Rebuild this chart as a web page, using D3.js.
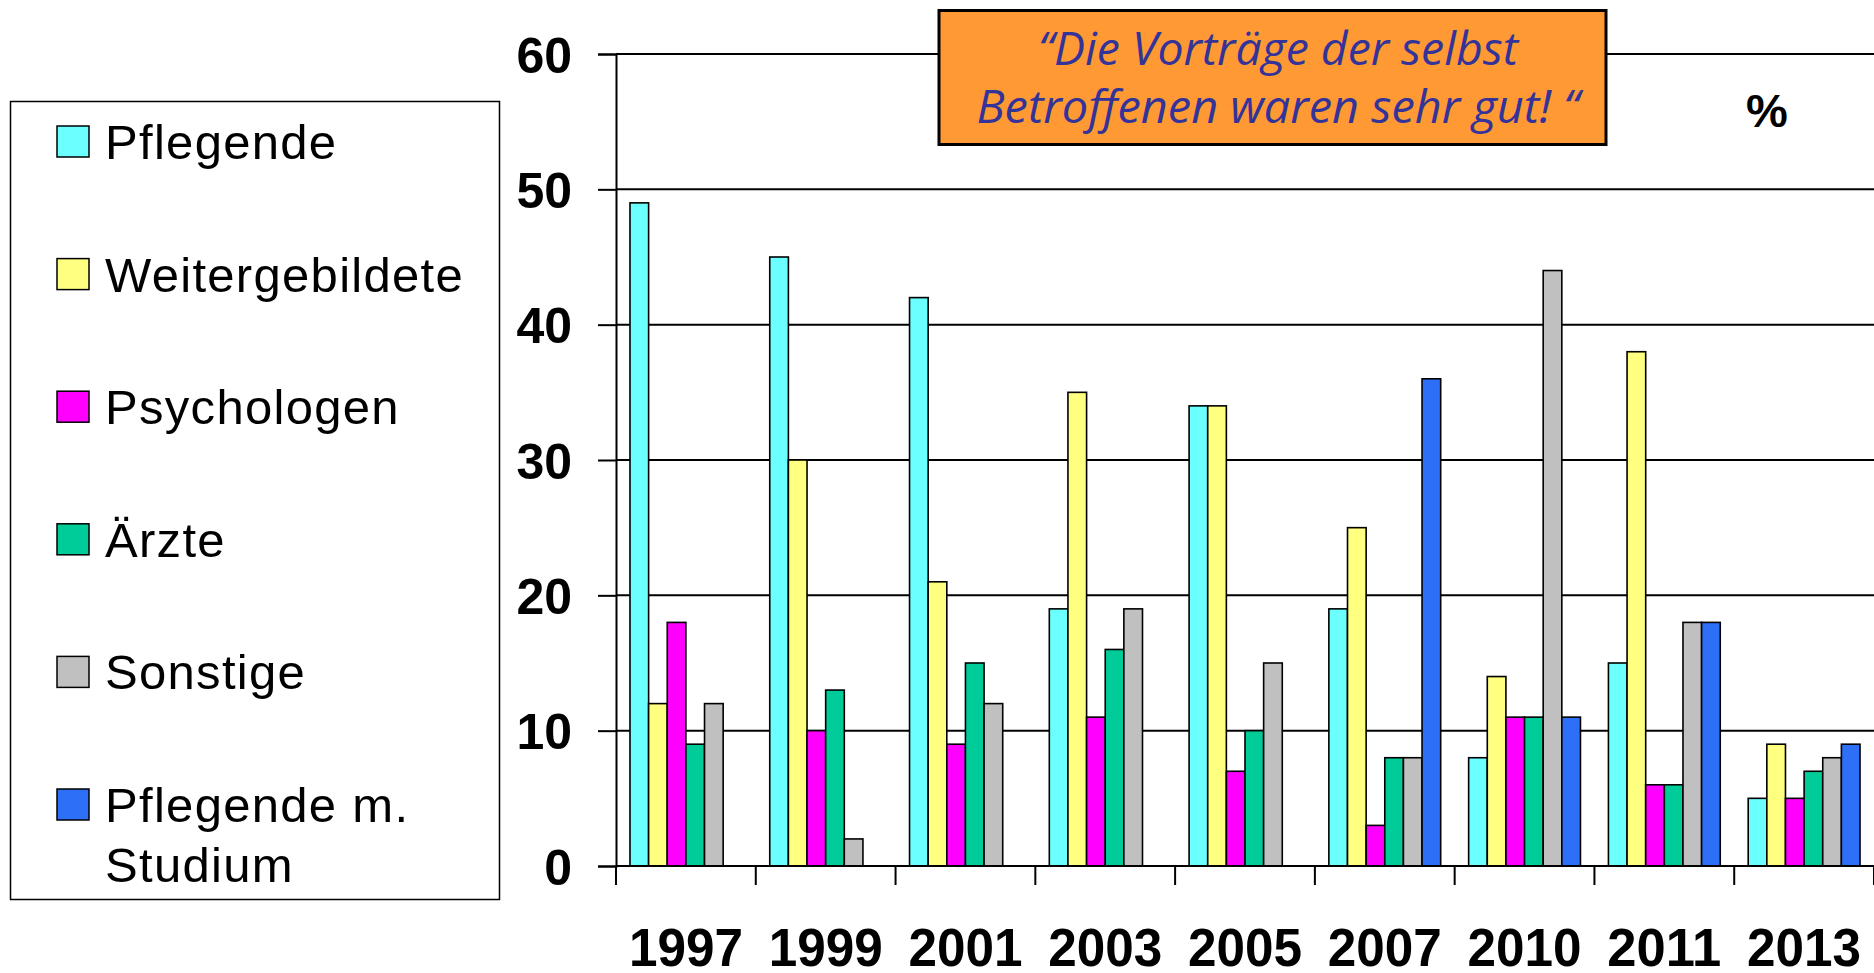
<!DOCTYPE html>
<html>
<head>
<meta charset="utf-8">
<script src="https://cdn.jsdelivr.net/npm/d3@7"></script>
<style>
  body { margin: 0; background: #fff; }
  svg { display: block; }
</style>
</head>
<body>
<svg></svg>
<script>
// data (percent)
let years = ['1997', '1999', '2001', '2003', '2005', '2007', '2010', '2011', '2013']
let seriesNames = ['Pflegende', 'Weitergebildete', 'Psychologen', 'Ärzte', 'Sonstige', 'Pflegende m. Studium']
let pflegende       = [49, 45, 42, 19, 34, 19, 8, 15, 5]
let weitergebildete = [12, 30, 21, 35, 34, 25, 14, 38, 9]
let psychologen     = [18, 10, 9, 11, 7, 3, 11, 6, 5]
let aerzte          = [9, 13, 15, 16, 10, 8, 11, 6, 7]
let sonstige        = [12, 2, 12, 19, 15, 8, 44, 18, 8]
let pflegendeStudium = [null, null, null, null, null, 36, 11, 18, 9]
let yTicks = [0, 10, 20, 30, 40, 50, 60]
let colors = ['#6bffff', '#ffff80', '#ff00ff', '#00cc99', '#c0c0c0', '#2d6ff7']

let seriesValues = [pflegende, weitergebildete, psychologen, aerzte, sonstige, pflegendeStudium]

let width = 1874
let height = 973
let plotLeft = 616
let plotRight = 1874
let plotTop = 54
let plotBottom = 866

let svg = d3.select('svg').attr('width', width).attr('height', height)

let x0 = d3.scaleBand().domain(years).range([plotLeft, plotRight]).paddingInner(0.2).paddingOuter(0.1)
let x1 = d3.scaleBand().domain(d3.range(seriesNames.length)).range([0, x0.bandwidth()])
let y = d3.scaleLinear().domain([0, 60]).range([plotBottom, plotTop])

// gridlines
svg.append('g')
   .selectAll('line')
   .data(yTicks.filter(d => d > 0))
   .enter()
   .append('line')
   .attr('x1', plotLeft).attr('x2', plotRight)
   .attr('y1', d => y(d)).attr('y2', d => y(d))
   .attr('stroke', '#000').attr('stroke-width', 2)

// bars
let rows = []
years.forEach((yr, i) => {
  seriesValues.forEach((vals, s) => {
    if (vals[i] != null) rows.push({ year: yr, s: s, v: vals[i] })
  })
})

svg.append('g')
   .selectAll('rect')
   .data(rows)
   .enter()
   .append('rect')
   .attr('x', d => x0(d.year) + x1(d.s))
   .attr('y', d => y(d.v))
   .attr('width', x1.bandwidth())
   .attr('height', d => y(0) - y(d.v))
   .attr('fill', d => colors[d.s])
   .attr('stroke', '#000')
   .attr('stroke-width', 1.6)

// y axis
let yAxis = d3.axisLeft(y).tickValues(yTicks).tickSize(18).tickPadding(26)
let yg = svg.append('g').attr('transform', 'translate(' + plotLeft + ',0)').call(yAxis)
yg.select('.domain').attr('stroke', '#000').attr('stroke-width', 2)
yg.selectAll('.tick line').attr('stroke', '#000').attr('stroke-width', 2)
yg.selectAll('text')
  .attr('fill', '#000')
  .style('font-family', '"Liberation Sans", Arial, sans-serif')
  .style('font-weight', 'bold')
  .style('font-size', '50px')
  .attr('dy', '0.36em')

// x axis line + boundary ticks
svg.append('line')
   .attr('x1', plotLeft).attr('x2', plotRight)
   .attr('y1', plotBottom).attr('y2', plotBottom)
   .attr('stroke', '#000').attr('stroke-width', 2)

let boundaries = d3.range(years.length + 1).map(i => plotLeft + i * x0.step())
svg.append('g')
   .selectAll('line')
   .data(boundaries)
   .enter()
   .append('line')
   .attr('x1', d => d).attr('x2', d => d)
   .attr('y1', plotBottom).attr('y2', plotBottom + 19)
   .attr('stroke', '#000').attr('stroke-width', 2)

let xAxis = d3.axisBottom(x0).tickSize(0).tickPadding(62)
let xg = svg.append('g').attr('transform', 'translate(0,' + plotBottom + ')').call(xAxis)
xg.select('.domain').remove()
xg.selectAll('text')
  .attr('fill', '#000')
  .style('font-family', '"Liberation Sans", Arial, sans-serif')
  .style('font-weight', 'bold')
  .style('font-size', '54px')
  .attr('textLength', 114)
  .attr('lengthAdjust', 'spacingAndGlyphs')

// legend
let legend = svg.append('g')
legend.append('rect')
      .attr('x', 10.5).attr('y', 101.5)
      .attr('width', 489).attr('height', 798)
      .attr('fill', '#fff').attr('stroke', '#000').attr('stroke-width', 1.5)

let rowY = d3.scaleLinear().domain([0, 5]).range([142, 805])
let items = legend.selectAll('.item')
                  .data(seriesNames)
                  .enter()
                  .append('g')
                  .attr('class', 'item')
                  .attr('transform', (d, i) => 'translate(0,' + rowY(i) + ')')

items.append('rect')
     .attr('x', 57).attr('y', -16)
     .attr('width', 32).attr('height', 31)
     .attr('fill', (d, i) => colors[i])
     .attr('stroke', '#000').attr('stroke-width', 1.5)

items.append('text')
     .attr('x', 105).attr('y', 17)
     .style('font-family', '"Liberation Sans", Arial, sans-serif')
     .style('font-size', '49px')
     .style('letter-spacing', '1.3px')
     .attr('fill', '#000')
     .each(function (d) {
       let t = d3.select(this)
       if (d === 'Pflegende m. Studium') {
         t.append('tspan').attr('x', 105).text('Pflegende m.')
         t.append('tspan').attr('x', 105).attr('dy', 60).text('Studium')
       } else {
         t.text(d)
       }
     })

// quote box
svg.append('rect')
   .attr('x', 939).attr('y', 10.5)
   .attr('width', 667).attr('height', 134)
   .attr('fill', '#ff9933')
   .attr('stroke', '#000').attr('stroke-width', 3)

let quote = [
  { text: '\u201CDie Vorträge der selbst', y: 65, len: 480 },
  { text: 'Betroffenen waren sehr gut! \u201C', y: 123, len: 603 }
]
svg.append('g')
   .selectAll('text')
   .data(quote)
   .enter()
   .append('text')
   .attr('x', 1278).attr('y', d => d.y)
   .attr('text-anchor', 'middle')
   .attr('textLength', d => d.len)
   .attr('lengthAdjust', 'spacingAndGlyphs')
   .style('font-family', '"Open Sans", "Noto Sans", sans-serif')
   .style('font-style', 'italic')
   .style('font-size', '46px')
   .attr('fill', '#333399')
   .text(d => d.text)

// unit label
svg.append('text')
   .attr('x', 1767).attr('y', 127)
   .attr('text-anchor', 'middle')
   .style('font-family', '"Liberation Sans", Arial, sans-serif')
   .style('font-weight', 'bold')
   .style('font-size', '47px')
   .text('%')
</script>
</body>
</html>
